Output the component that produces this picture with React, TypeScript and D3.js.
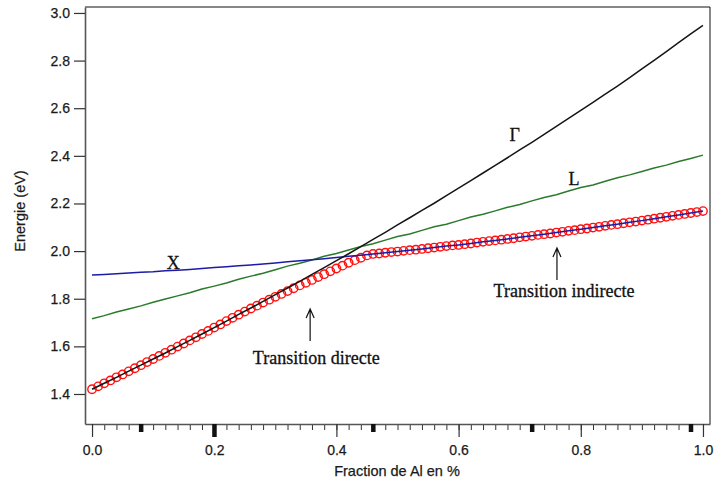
import { useRef, useEffect } from 'react'
import * as d3 from 'd3'

// DATA (energies in eV)
const fractionTicks = [0, 0.2, 0.4, 0.6, 0.8, 1.0]
const energyTicks = [1.4, 1.6, 1.8, 2.0, 2.2, 2.4, 2.6, 2.8, 3.0]
const markedFractions = [0.08, 0.2, 0.46, 0.72, 0.98]

// curves sampled every 0.02
const lineFractions = d3.range(51).map(i => i / 50)
const gammaValues = [
  1.420, 1.445, 1.470, 1.496, 1.521, 1.547, 1.572, 1.599, 1.625, 1.652,
  1.679, 1.706, 1.734, 1.761, 1.789, 1.817, 1.845, 1.873, 1.902, 1.931,
  1.960, 1.989, 2.019, 2.049, 2.079, 2.110, 2.140, 2.171, 2.201, 2.233,
  2.264, 2.296, 2.328, 2.360, 2.392, 2.425, 2.457, 2.490, 2.524, 2.557,
  2.591, 2.625, 2.659, 2.693, 2.728, 2.765, 2.801, 2.838, 2.875, 2.912,
  2.948
]
const lValues = [
  1.716, 1.729, 1.744, 1.757, 1.770, 1.785, 1.799, 1.812, 1.825, 1.841,
  1.853, 1.866, 1.882, 1.895, 1.907, 1.922, 1.937, 1.949, 1.963, 1.978,
  1.990, 2.005, 2.019, 2.031, 2.046, 2.061, 2.072, 2.087, 2.102, 2.113,
  2.128, 2.143, 2.155, 2.169, 2.184, 2.196, 2.211, 2.225, 2.237, 2.252,
  2.267, 2.278, 2.293, 2.308, 2.320, 2.334, 2.349, 2.361, 2.376, 2.389,
  2.403
]
const xValleyValues = [
  1.900, 1.902, 1.905, 1.908, 1.911, 1.913, 1.917, 1.920, 1.923, 1.927,
  1.931, 1.934, 1.938, 1.942, 1.946, 1.950, 1.955, 1.959, 1.964, 1.968,
  1.973, 1.978, 1.983, 1.988, 1.993, 1.998, 2.004, 2.009, 2.015, 2.021,
  2.026, 2.032, 2.039, 2.045, 2.051, 2.058, 2.064, 2.071, 2.078, 2.085,
  2.092, 2.099, 2.106, 2.113, 2.121, 2.128, 2.136, 2.144, 2.152, 2.160,
  2.168
]

// gap (circles) sampled every 0.01
const gapFractions = d3.range(101).map(i => i / 100)
const gapValues = [
  1.420, 1.432, 1.445, 1.457, 1.470, 1.482, 1.495, 1.508, 1.521, 1.534,
  1.547, 1.560, 1.573, 1.586, 1.599, 1.612, 1.625, 1.638, 1.652, 1.665,
  1.679, 1.692, 1.706, 1.720, 1.733, 1.746, 1.759, 1.771, 1.784, 1.796,
  1.808, 1.820, 1.832, 1.844, 1.856, 1.867, 1.879, 1.891, 1.903, 1.915,
  1.927, 1.939, 1.951, 1.962, 1.972, 1.982, 1.988, 1.990, 1.993, 1.996,
  1.998, 2.001, 2.004, 2.006, 2.009, 2.012, 2.015, 2.018, 2.021, 2.024,
  2.026, 2.029, 2.032, 2.036, 2.039, 2.042, 2.045, 2.048, 2.051, 2.054,
  2.058, 2.061, 2.064, 2.068, 2.071, 2.074, 2.078, 2.081, 2.085, 2.088,
  2.092, 2.095, 2.099, 2.102, 2.106, 2.110, 2.113, 2.117, 2.121, 2.124,
  2.128, 2.132, 2.136, 2.140, 2.144, 2.148, 2.152, 2.156, 2.160, 2.164,
  2.168
]

const curveLabels = [
  { text: 'X', f: 0.133, e: 1.925 },
  { text: 'Γ', f: 0.692, e: 2.462 },
  { text: 'L', f: 0.789, e: 2.278 },
  { text: 'Transition directe', f: 0.367, e: 1.526 },
  { text: 'Transition indirecte', f: 0.7725, e: 1.807 }
]
const arrows = [
  { f: 0.357, top: 1.757, bottom: 1.622 },
  { f: 0.761, top: 2.013, bottom: 1.879 }
]

const SANS = 'Liberation Sans, Arial, sans-serif'
const SERIF = 'Liberation Serif, Times New Roman, serif'

const App = () => {
  const ref = useRef<SVGSVGElement>(null)

  useEffect(() => {
    const totalWidth = 714,
      totalHeight = 484,
      left = 85,
      right = 710,
      top = 7,
      bottom = 424

    const svg = d3.select(ref.current)
    svg.selectAll('*').remove()

    const x = d3.scaleLinear().domain([-0.0115, 1.0115]).range([left, right])
    const y = d3.scaleLinear().domain([1.274, 3.025]).range([bottom, top])

    // FRAME (top / right thin lines)
    svg.append('path')
      .attr('d', `M${left},${top}H${right}V${bottom}`)
      .attr('fill', 'none')
      .attr('stroke', '#111')
      .attr('stroke-width', 1)

    // CIRCLES
    svg.append('g')
      .selectAll('circle')
      .data(gapValues)
      .enter()
      .append('circle')
        .attr('cx', (d, i) => x(gapFractions[i]))
        .attr('cy', d => y(d))
        .attr('r', 4.2)
        .attr('fill', 'none')
        .attr('stroke', '#ff1010')
        .attr('stroke-width', 1.4)

    // LINES
    const line = d3.line<number>()
      .x((d, i) => x(lineFractions[i]))
      .y(d => y(d))

    const series = [
      { values: lValues, color: '#2b7a2b' },
      { values: xValleyValues, color: '#1c1ca6' },
      { values: gammaValues, color: '#151515' }
    ]
    series.forEach(s => {
      svg.append('path')
        .datum(s.values)
        .attr('d', line)
        .attr('fill', 'none')
        .attr('stroke', s.color)
        .attr('stroke-width', 1.5)
    })

    // AXES
    const yAxis = d3.axisLeft(y)
      .tickValues(energyTicks)
      .tickSize(11)
      .tickSizeOuter(0)
      .tickPadding(4)
      .tickFormat(d3.format('.1f'))
    const gy = svg.append('g')
      .attr('transform', `translate(${left},0)`)
      .call(yAxis)

    const xMinor = d3.axisBottom(x)
      .tickValues(d3.range(51).map(i => i / 50))
      .tickSize(6)
      .tickSizeOuter(0)
      .tickFormat(() => '')
    svg.append('g')
      .attr('transform', `translate(0,${bottom})`)
      .call(xMinor)
      .call(g => g.select('.domain').remove())
      .selectAll('line')
        .attr('stroke', '#333')

    const xAxis = d3.axisBottom(x)
      .tickValues(fractionTicks)
      .tickSize(13)
      .tickSizeOuter(0)
      .tickPadding(8)
      .tickFormat(d3.format('.1f'))
    const gx = svg.append('g')
      .attr('transform', `translate(0,${bottom})`)
      .call(xAxis)

    ;[gx, gy].forEach(g => {
      g.select('.domain').attr('stroke', '#555').attr('stroke-width', 1.6)
      g.selectAll('.tick line').attr('stroke', '#333').attr('stroke-width', 1.2)
      g.selectAll('.tick text')
        .attr('fill', '#1a1a1a')
        .attr('stroke', '#1a1a1a')
        .attr('stroke-width', 0.25)
        .style('font-family', SANS)
        .style('font-size', '14px')
    })

    // THICK MARKS ON X AXIS
    svg.append('g')
      .selectAll('rect')
      .data(markedFractions)
      .enter()
      .append('rect')
        .attr('x', d => x(d) - 2)
        .attr('y', bottom)
        .attr('width', 4.5)
        .attr('height', d => fractionTicks.includes(d) ? 13 : 8)
        .attr('fill', '#111')

    // AXIS TITLES
    svg.append('text')
      .attr('transform', 'translate(25,211) rotate(-90)')
      .attr('text-anchor', 'middle')
      .style('font-family', SANS)
      .style('font-size', '14.5px')
      .attr('fill', '#1a1a1a')
      .attr('stroke', '#1a1a1a')
      .attr('stroke-width', 0.25)
      .text('Energie (eV)')

    svg.append('text')
      .attr('x', 397)
      .attr('y', 476)
      .attr('text-anchor', 'middle')
      .style('font-family', SANS)
      .style('font-size', '14.5px')
      .attr('fill', '#1a1a1a')
      .attr('stroke', '#1a1a1a')
      .attr('stroke-width', 0.25)
      .text('Fraction de Al en %')

    // ANNOTATIONS
    svg.append('g')
      .selectAll('text')
      .data(curveLabels)
      .enter()
      .append('text')
        .attr('x', d => x(d.f))
        .attr('y', d => y(d.e))
        .attr('text-anchor', 'middle')
        .style('font-family', SERIF)
        .style('font-size', '18px')
        .attr('fill', '#111')
        .attr('stroke', '#111')
        .attr('stroke-width', 0.3)
        .text(d => d.text)

    arrows.forEach(a => {
      const ax = x(a.f), ay = y(a.top)
      svg.append('path')
        .attr('d', `M${ax},${y(a.bottom)}V${ay}M${ax - 4},${ay + 9}L${ax},${ay}L${ax + 4},${ay + 9}`)
        .attr('fill', 'none')
        .attr('stroke', '#111')
        .attr('stroke-width', 1.2)
    })

    svg.attr('width', totalWidth).attr('height', totalHeight)
  }, [])

  return (
    <svg ref={ ref } width={ 714 } height={ 484 }
      style={ { position: 'absolute', left: 0, top: 0, background: '#fff' } }></svg>
  )
}

export default App
